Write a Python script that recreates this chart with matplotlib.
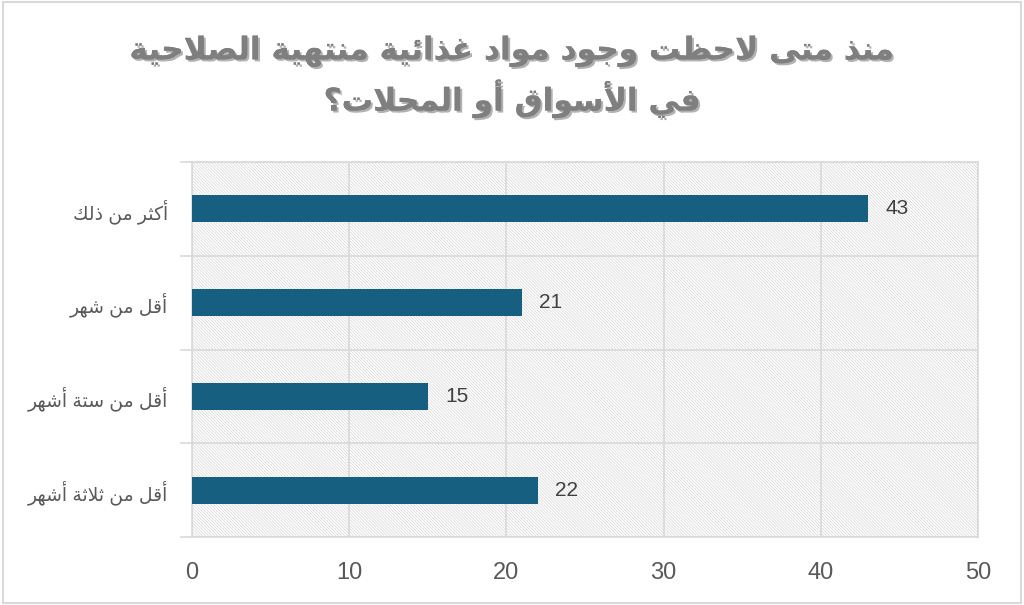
import matplotlib
matplotlib.use('Agg')
import matplotlib.pyplot as plt
import matplotlib.patheffects as pe
from matplotlib.patches import Rectangle

# data (top to bottom as shown)
categories = ['أكثر من ذلك', 'أقل من شهر', 'أقل من ستة أشهر', 'أقل من ثلاثة أشهر']
values = [43, 21, 15, 22]
xticks = [0, 10, 20, 30, 40, 50]
title = 'منذ متى لاحظت وجود مواد غذائية منتهية الصلاحية\nفي الأسواق أو المحلات؟'

# minimal arabic shaping (presentation forms) + reversal for LTR rendering
_letters = 'ءآأؤإئابةتثجحخدذرزسشصضطظعغفقكلمنهوىي'
_dual = set('ئبتثجحخسشصضطظعغفقكلمنهي')
FORMS = {}
code = 0xFE80
for ch in _letters:
    n = 1 if ch == 'ء' else (4 if ch in _dual else 2)
    FORMS[ch] = (code, n)
    code += n
LAMALEF = {'آ': 0xFEF5, 'أ': 0xFEF7, 'إ': 0xFEF9, 'ا': 0xFEFB}


def shape_line(text):
    toks = []
    i = 0
    while i < len(text):
        c = text[i]
        if c == 'ل' and i + 1 < len(text) and text[i + 1] in LAMALEF:
            toks.append(('LA', text[i + 1]))
            i += 2
        else:
            toks.append(c)
            i += 1
    out = []
    for k, t in enumerate(toks):
        prev = toks[k - 1] if k > 0 else None
        nxt = toks[k + 1] if k + 1 < len(toks) else None
        p = isinstance(prev, str) and prev in _dual
        if isinstance(t, tuple):
            out.append(chr(LAMALEF[t[1]] + (1 if p else 0)))
            continue
        if t not in FORMS:
            out.append(t)
            continue
        start, n = FORMS[t]
        nx = n == 4 and (isinstance(nxt, tuple) or (nxt is not None and nxt in FORMS))
        if n == 1:
            idx = 0
        elif p and nx:
            idx = 3
        elif p:
            idx = 1
        elif nx:
            idx = 2
        else:
            idx = 0
        out.append(chr(start + idx))
    return ''.join(reversed(out))


def shape(text):
    return '\n'.join(shape_line(l) for l in text.split('\n'))


plt.rcParams['font.family'] = ['Liberation Sans', 'DejaVu Sans']
plt.rcParams['hatch.linewidth'] = 0.5
plt.rcParams['hatch.color'] = '#D6D6D6'

fig = plt.figure(figsize=(10.24, 6.05), dpi=100)
ax = fig.add_axes([0.1875, 0.1124, 0.7676, 0.6198])

# outer border
fig.patches.append(Rectangle((0.003, 0.004), 0.994, 0.992, transform=fig.transFigure,
                             fill=False, edgecolor='#D9D9D9', lw=1.5))

ax.add_patch(Rectangle((0, 0), 1, 1, transform=ax.transAxes, facecolor='white',
                       edgecolor='#D6D6D6', hatch='\\' * 11, lw=0, zorder=0))

y = list(range(len(categories)))
ax.barh(y, values, height=0.29, color='#165F81', zorder=3)
for yi, v in zip(y, values):
    ax.text(v + 1.1, yi, str(v), va='center', ha='left', fontsize=15, color='#404040', zorder=4)

ax.set_xlim(0, 50)
ax.set_ylim(3.5, -0.5)
ax.set_xticks(xticks)
ax.set_xticklabels([str(t) for t in xticks], fontsize=17, color='#595959')
ax.set_yticks(y)
ax.set_yticklabels([shape(c) for c in categories], fontsize=13.5, color='#595959')
ax.set_yticks([-0.5, 0.5, 1.5, 2.5, 3.5], minor=True)
ax.tick_params(axis='y', which='major', length=0, pad=17)
ax.tick_params(axis='y', which='minor', length=9, color='#D9D9D9', width=1.2)
ax.tick_params(axis='x', length=0, pad=18)
ax.grid(axis='x', color='#D9D9D9', lw=1.2, zorder=1)
ax.grid(axis='y', which='minor', color='#D9D9D9', lw=1.2, zorder=1)
for s in ax.spines.values():
    s.set_color('#D9D9D9')
    s.set_linewidth(1.2)

fig.text(0.5, 0.873, shape(title), ha='center', va='center', fontsize=22.5,
         fontweight='bold', color='#7F7F7F', family=['DejaVu Sans'], linespacing=1.4,
         path_effects=[pe.withSimplePatchShadow(offset=(1.5, -1.5), shadow_rgbFace='#404040', alpha=0.4),
                       pe.Normal()])

fig.savefig('out.png', dpi=100)
